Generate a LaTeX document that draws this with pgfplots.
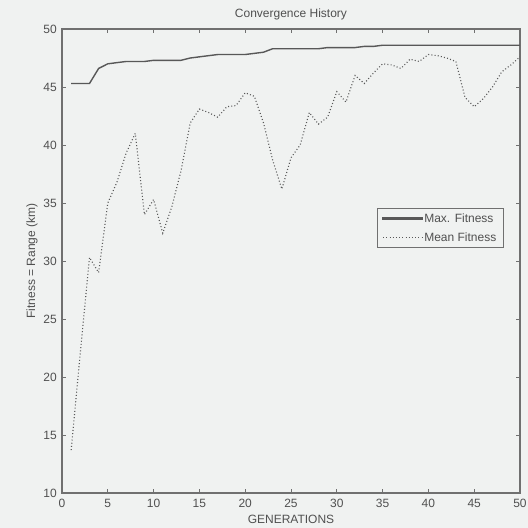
\documentclass[border=0pt]{standalone}
\usepackage{fontspec}
\setmainfont{Liberation Sans}
\usepackage{pgfplots}
\pgfplotsset{compat=1.18}

\definecolor{bgc}{RGB}{240,242,241}
\definecolor{linec}{RGB}{88,88,88}
\definecolor{axc}{RGB}{112,112,112}
\definecolor{txt}{RGB}{80,80,80}

\begin{document}
\begin{tikzpicture}[font=\fontsize{12}{14}\selectfont]
\fill[bgc] (0,0) rectangle (528pt,528pt);
\begin{axis}[
  at={(62pt,35pt)}, anchor=south west,
  scale only axis,
  width=458pt, height=464pt,
  xmin=0, xmax=50, ymin=10, ymax=50,
  xtick={0,5,...,50}, ytick={10,15,...,50},
  tick pos=both, tick align=inside,
  major tick length=4pt,
  axis line style={axc, line width=1.1pt},
  tick style={axc, line width=0.8pt},
  /pgf/number format/assume math mode=true,
  ticklabel style={text=txt},
  xticklabel style={anchor=center, yshift=-10pt, inner sep=0pt},
  yticklabel style={anchor=east, xshift=-5pt, inner sep=0pt},
  title={Convergence History},
  title style={at={(axis description cs:0.5,1)}, anchor=center, yshift=9pt, text=txt},
  xlabel={GENERATIONS},
  xlabel style={at={(axis description cs:0.5,0)}, anchor=center, yshift=-26pt, text=txt},
  ylabel={Fitness = Range (km)},
  ylabel style={at={(axis description cs:0,0.5)}, anchor=center, yshift=30pt, text=txt},
  legend style={at={(rel axis cs:0.963,0.614)}, anchor=north east,
    draw=axc, fill=bgc, text=txt,
    inner xsep=5pt, inner ysep=4pt, row sep=7pt,
    nodes={inner xsep=1.5pt, inner ysep=1pt}},
  legend cell align=left,
  legend image code/.code={\draw[#1] (0pt,0pt) -- (39pt,0pt);},
]
\addplot[linec, line width=1.4pt,
  legend image code/.code={\fill[linec] (0pt,-0.9pt) rectangle (39pt,0.9pt);}] coordinates {
  (1,45.3) (2,45.3) (3,45.3) (4,46.6) (5,47.0) (6,47.1) (7,47.2) (8,47.2)
  (9,47.2) (10,47.3) (11,47.3) (12,47.3) (13,47.3) (14,47.5) (15,47.6)
  (16,47.7) (17,47.8) (18,47.8) (19,47.8) (20,47.8) (21,47.9) (22,48.0)
  (23,48.3) (24,48.3) (25,48.3) (26,48.3) (27,48.3) (28,48.3) (29,48.4)
  (30,48.4) (31,48.4) (32,48.4) (33,48.5) (34,48.5) (35,48.6) (36,48.6)
  (37,48.6) (38,48.6) (39,48.6) (40,48.6) (41,48.6) (42,48.6) (43,48.6)
  (44,48.6) (45,48.6) (46,48.6) (47,48.6) (48,48.6) (49,48.6) (50,48.6)
};
\addlegendentry{Max. Fitness}
\addplot[linec, line width=1.1pt, dash pattern=on 1pt off 2.2pt] coordinates {
  (1,13.7) (2,22.1) (3,30.3) (4,29.0) (5,35.0) (6,36.8) (7,39.3) (8,41.0)
  (9,34.0) (10,35.3) (11,32.4) (12,34.7) (13,37.8) (14,41.9) (15,43.1)
  (16,42.8) (17,42.4) (18,43.3) (19,43.4) (20,44.5) (21,44.2) (22,41.9)
  (23,38.7) (24,36.2) (25,38.9) (26,40.0) (27,42.8) (28,41.8) (29,42.4)
  (30,44.6) (31,43.7) (32,46.0) (33,45.3) (34,46.2) (35,47.0) (36,46.9)
  (37,46.6) (38,47.4) (39,47.2) (40,47.8) (41,47.7) (42,47.5) (43,47.2)
  (44,44.1) (45,43.3) (46,44.0) (47,45.0) (48,46.3) (49,46.9) (50,47.6)
};
\addlegendentry{Mean Fitness}
\end{axis}
\end{tikzpicture}
\end{document}
